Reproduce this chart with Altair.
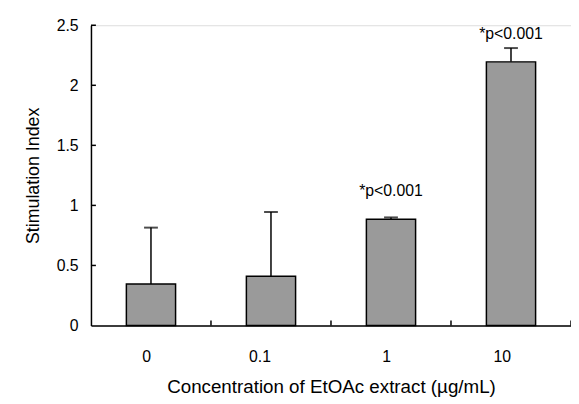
import altair as alt
import pandas as pd

categories = ["0", "0.1", "1", "10"]
means = [0.345, 0.41, 0.885, 2.195]
err_top = [0.815, 0.945, 0.90, 2.31]
notes = ["", "", "*p<0.001", "*p<0.001"]
y_ticks = [0, 0.5, 1, 1.5, 2, 2.5]
x_bounds = [1, 2, 3, 4]

df = pd.DataFrame({"cat": categories, "mean": means, "top": err_top, "note": notes})
ytick_df = pd.DataFrame({"v": [t for t in y_ticks if t > 0]})
xtick_df = pd.DataFrame({"b": x_bounds})

FONT = "Liberation Sans"
W, H = 486, 304

xs = alt.Scale(domain=categories, paddingInner=0.59, paddingOuter=0.295)
ys = alt.Scale(domain=[0, 2.5], nice=False, zero=True)

x_enc = alt.X("cat:N", scale=xs, sort=categories,
              axis=alt.Axis(title="Concentration of EtOAc extract (µg/mL)", labelAngle=0,
                            ticks=False, labelPadding=31, titlePadding=14,
                            domainColor="black", domainWidth=1.5,
                            labelFont=FONT, labelFontSize=16, labelColor="black",
                            titleFont=FONT, titleFontSize=19, titleFontWeight="normal",
                            titleColor="black"))
y_enc = alt.Y("mean:Q", scale=ys,
              axis=alt.Axis(title="Stimulation Index", values=y_ticks, ticks=False,
                            format="~g",
                            labelPadding=13, titlePadding=14, grid=False,
                            domainColor="black", domainWidth=1.5,
                            labelFont=FONT, labelFontSize=16, labelColor="black",
                            titleFont=FONT, titleFontSize=18, titleFontWeight="normal",
                            titleColor="black"))

err = alt.Chart(df).mark_rule(color="black", strokeWidth=1.5).encode(
    x=alt.X("cat:N", scale=xs, sort=categories),
    y=alt.Y("mean:Q", scale=ys),
    y2="top:Q",
)
cap = alt.Chart(df).mark_tick(color="black", thickness=2, size=14).encode(
    x=alt.X("cat:N", scale=xs, sort=categories),
    y=alt.Y("top:Q", scale=ys),
)
bars = alt.Chart(df).mark_bar(color="#9a9a9a", stroke="black", strokeWidth=1.5).encode(
    x=x_enc, y=y_enc,
)
txt = alt.Chart(df).mark_text(font=FONT, fontSize=16, color="black", baseline="alphabetic", dy=-23).encode(
    x=alt.X("cat:N", scale=xs, sort=categories),
    y=alt.Y("mean:Q", scale=ys),
    text="note:N",
)
yt = alt.Chart(ytick_df).mark_rule(color="black", strokeWidth=1.5).encode(
    y=alt.Y("v:Q", scale=ys),
    x=alt.value(0), x2=alt.value(5),
)
xt = alt.Chart(xtick_df).mark_rule(color="black", strokeWidth=1.5).encode(
    x=alt.X("b:Q", scale=alt.Scale(domain=[0, 4], nice=False, zero=True), axis=None),
    y=alt.value(H), y2=alt.value(H - 5),
)

main = alt.layer(err, cap, bars, txt, yt)
chart = alt.layer(main, xt).resolve_scale(x="independent").properties(
    width=W, height=H,
    autosize=alt.AutoSizeParams(type="none"),
    padding={"left": 84, "top": 15, "right": 0, "bottom": 76},
).configure_view(stroke=None).configure(background="white")

chart.save("out.html", embed_options={"renderer": "svg", "actions": False})
